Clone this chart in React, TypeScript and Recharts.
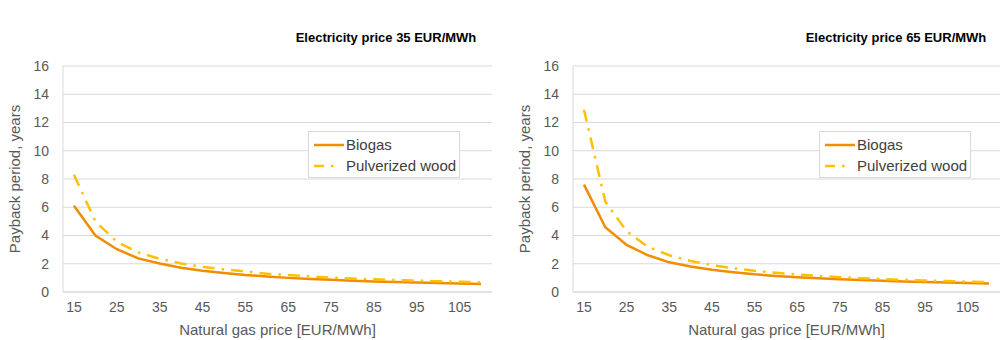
import { LineChart, Line, XAxis, YAxis, CartesianGrid, Legend } from 'recharts';

const gasPrices = [15, 20, 25, 30, 35, 40, 45, 50, 55, 60, 65, 70, 75, 80, 85, 90, 95, 100, 105, 110];
const yTicks = [0, 2, 4, 6, 8, 10, 12, 14, 16];

const biogas35 = [6.1, 4.0, 3.03, 2.38, 2.02, 1.72, 1.5, 1.34, 1.2, 1.1, 1.0, 0.92, 0.86, 0.8, 0.75, 0.71, 0.67, 0.63, 0.6, 0.57];
const wood35 = [8.3, 5.0, 3.55, 2.8, 2.35, 2.02, 1.78, 1.6, 1.45, 1.3, 1.2, 1.1, 1.02, 0.95, 0.9, 0.85, 0.8, 0.76, 0.72, 0.68];
const biogas65 = [7.6, 4.58, 3.33, 2.6, 2.1, 1.8, 1.58, 1.4, 1.25, 1.14, 1.05, 0.97, 0.9, 0.85, 0.8, 0.75, 0.7, 0.67, 0.63, 0.6];
const wood65 = [12.9, 6.4, 4.3, 3.2, 2.6, 2.2, 1.9, 1.68, 1.5, 1.36, 1.24, 1.14, 1.05, 0.98, 0.92, 0.86, 0.81, 0.77, 0.73, 0.7];

const BIOGAS = '#F28C00';
const WOOD = '#FFC000';
const WOOD_DASH = '12 7 2.5 7';
const FONT = '"Liberation Sans", Arial, sans-serif';

function LegendBox() {
  return (
    <div
      style={{
        width: 152,
        height: 47,
        border: '1px solid #d9d9d9',
        background: '#fff',
        fontFamily: FONT,
        fontSize: 15,
        color: '#404040',
        boxSizing: 'border-box',
        paddingTop: 2,
      }}
    >
      {[
        { name: 'Biogas', color: BIOGAS, dash: undefined },
        { name: 'Pulverized wood', color: WOOD, dash: '10 7 2.5 20' },
      ].map((it) => (
        <div key={it.name} style={{ display: 'flex', alignItems: 'center', height: 21 }}>
          <svg width={32} height={10} style={{ marginLeft: 4 }}>
            <line x1={1} y1={5} x2={31} y2={5} stroke={it.color} strokeWidth={2.5} strokeDasharray={it.dash} />
          </svg>
          <span style={{ marginLeft: 1 }}>{it.name}</span>
        </div>
      ))}
    </div>
  );
}

function PaybackChart({
  biogas,
  wood,
  title,
  yAxisWidth,
  rightMargin,
  titleX,
  legendLeft,
}: {
  biogas: number[];
  wood: number[];
  title: string;
  yAxisWidth: number;
  rightMargin: number;
  titleX: number;
  legendLeft: number;
}) {
  const data = gasPrices.map((p, i) => ({ price: p, biogas: biogas[i], wood: wood[i] }));
  const tick = { fontSize: 14, fill: '#595959', fontFamily: FONT };
  return (
    <LineChart width={500} height={340} data={data} margin={{ top: 19, right: rightMargin, bottom: 0, left: 0 }}>
      <CartesianGrid stroke="#d9d9d9" vertical={false} />
      <XAxis
        dataKey="price"
        type="category"
        interval={1}
        height={48}
        padding={{ left: 11, right: 11 }}
        tick={tick}
        tickLine={false}
        tickSize={0}
        tickMargin={10}
        axisLine={{ stroke: '#d9d9d9' }}
        label={{ value: 'Natural gas price [EUR/MWh]', position: 'insideBottom', offset: 5, style: { ...tick, fontSize: 15 } }}
      />
      <YAxis
        domain={[0, 16]}
        ticks={yTicks}
        width={yAxisWidth}
        tick={tick}
        tickLine={false}
        tickSize={0}
        tickMargin={14}
        axisLine={{ stroke: '#d9d9d9' }}
        label={{
          value: 'Payback period, years',
          angle: -90,
          position: 'insideLeft',
          offset: yAxisWidth - 48,
          style: { ...tick, fontSize: 15, textAnchor: 'middle' },
        }}
      />
      <YAxis yAxisId="border" orientation="right" width={0} tick={false} tickLine={false} axisLine={{ stroke: '#d9d9d9' }} />
      <Legend
        content={<LegendBox />}
        wrapperStyle={{ left: legendLeft, top: 131, width: 152 }}
        verticalAlign="top"
        align="left"
      />
      <text x={titleX} y={42} textAnchor="middle" fontFamily={FONT} fontSize={13} fontWeight="bold" fill="#000">
        {title}
      </text>
      <Line type="linear" dataKey="biogas" name="Biogas" stroke={BIOGAS} strokeWidth={2.5} dot={false} isAnimationActive={false} />
      <Line
        type="linear"
        dataKey="wood"
        name="Pulverized wood"
        stroke={WOOD}
        strokeWidth={2.5}
        strokeDasharray={WOOD_DASH}
        dot={false}
        isAnimationActive={false}
      />
    </LineChart>
  );
}

export default function App() {
  return (
    <div style={{ position: 'absolute', left: 0, top: 0, width: 1000, height: 340, background: '#fff' }}>
      <div style={{ position: 'absolute', left: 0, top: 0 }}>
        <PaybackChart
          biogas={biogas35}
          wood={wood35}
          title="Electricity price 35 EUR/MWh"
          yAxisWidth={63}
          rightMargin={8}
          titleX={386}
          legendLeft={308}
        />
      </div>
      <div style={{ position: 'absolute', left: 500, top: 0 }}>
        <PaybackChart
          biogas={biogas65}
          wood={wood65}
          title="Electricity price 65 EUR/MWh"
          yAxisWidth={73}
          rightMargin={0}
          titleX={396}
          legendLeft={319}
        />
      </div>
    </div>
  );
}
